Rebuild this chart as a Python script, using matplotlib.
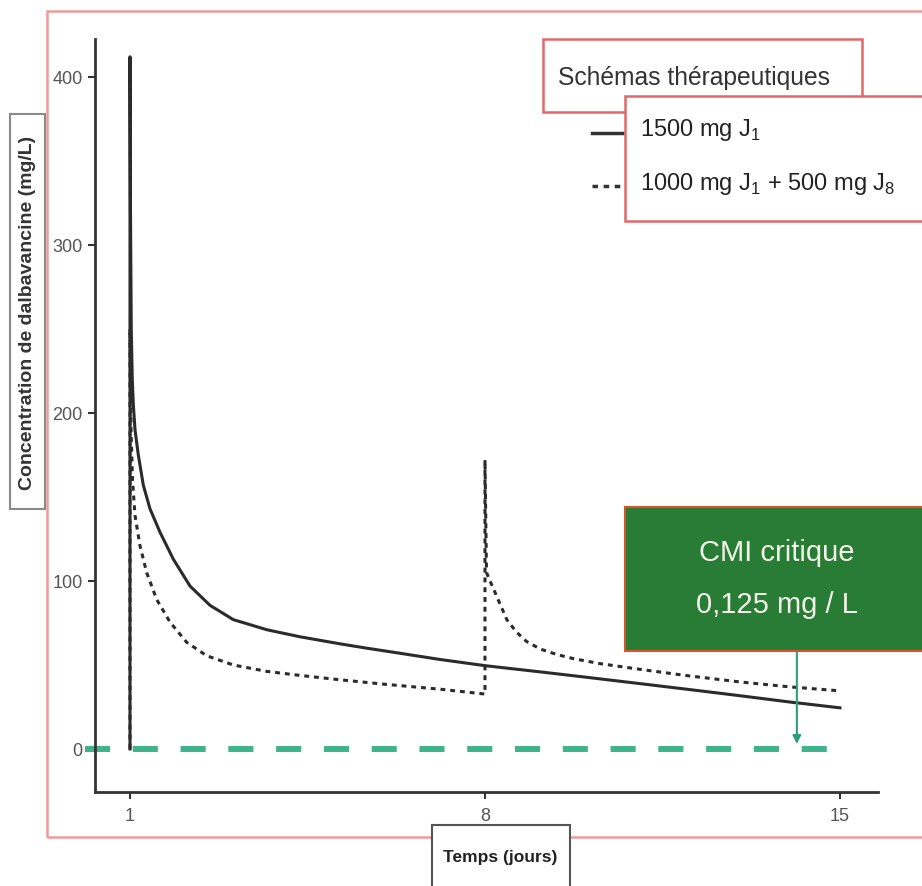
import matplotlib
matplotlib.use("Agg")
import matplotlib.pyplot as plt
from matplotlib.patches import Rectangle
from matplotlib.lines import Line2D

plt.rcParams['font.family'] = ['Liberation Sans', 'DejaVu Sans']

# ---- data ----
t_1500 = [1.0, 1.0, 1.01, 1.025, 1.045, 1.066, 1.099, 1.164, 1.263, 1.394, 1.592, 1.854,
          2.183, 2.578, 3.037, 3.696, 4.35, 5.14, 5.67, 6.32, 7.11, 8.0, 9.09, 10.0,
          11.06, 12.0, 13.03, 14.0, 15.0]
c_1500 = [0, 412, 320, 250, 220, 205, 190, 175, 157, 143, 129, 113,
          97, 85.5, 77, 71, 66.8, 62.6, 60, 57, 53.3, 49.6, 45.9, 42.7,
          38.9, 35.5, 31.7, 28, 24.5]

t_1000_500 = [1.0, 1.0, 1.02, 1.05, 1.099, 1.197, 1.329, 1.526, 1.789, 2.118, 2.513, 3.037,
              3.696, 4.35, 5.14, 6.0, 7.11, 8.0, 8.0, 8.03, 8.1, 8.23, 8.43, 8.62, 8.82,
              9.09, 9.41, 9.74, 10.27, 11.06, 12.0, 13.03, 14.0, 15.0]
c_1000_500 = [0, 250, 190, 160, 139, 121, 105, 89, 75.5, 63.5, 55.5, 50,
              46.2, 43.8, 41.2, 38.6, 35.6, 32.7, 172, 105, 100, 91, 77, 69.6, 64,
              59.5, 56.3, 53.8, 50.8, 47.4, 43.6, 39.9, 37, 34.6]

cmi = 0.125
x_ticks = [1, 8, 15]
y_ticks = [0, 100, 200, 300, 400]
series_labels = ["1500 mg J$_{\\mathregular{1}}$",
                 "1000 mg J$_{\\mathregular{1}}$ + 500 mg J$_{\\mathregular{8}}$"]

W, H = 922, 887
fig = plt.figure(figsize=(W / 100, H / 100), dpi=100)
fig.patch.set_facecolor("white")

def fx(px):
    return px / W

def fy(py):
    return 1 - py / H

ax = fig.add_axes([fx(95), fy(793), fx(878) - fx(95), fy(40) - fy(793)])
ax.set_xlim(0.31, 15.75)
ax.set_ylim(-25.6, 422.6)

ax.plot(t_1500, c_1500, color="#2b2b2b", lw=2.2, solid_joinstyle="round")
ax.plot(t_1000_500, c_1000_500, color="#2b2b2b", lw=2.2, linestyle=(0, (1.6, 1.6)))

# CMI line
ax.plot([0.11, 15.0], [cmi, cmi], color="#3fb38a", lw=4.3,
        linestyle=(0, (4.2, 3.8)), clip_on=False)

# arrow from box to CMI line
ax.annotate("", xy=(14.15, 3), xytext=(14.15, 58.3),
            arrowprops=dict(arrowstyle="-|>", color="#2e9e7a", lw=1.5,
                            mutation_scale=12, shrinkA=0, shrinkB=0))

for s in ["top", "right"]:
    ax.spines[s].set_visible(False)
for s in ["left", "bottom"]:
    ax.spines[s].set_color("#333333")
    ax.spines[s].set_linewidth(2)
ax.set_xticks(x_ticks)
ax.set_yticks(y_ticks)
ax.tick_params(axis="both", length=5, width=1.5, color="#333333",
               labelcolor="#555555", labelsize=13)
ax.tick_params(axis="x", pad=6)
ax.tick_params(axis="y", pad=4)

# red outer frame
fig.add_artist(Rectangle((fx(47), fy(838)), fx(930) - fx(47), fy(12) - fy(838),
                         transform=fig.transFigure, fill=False,
                         edgecolor="#f09a9a", lw=1.8, zorder=0))

# y label box
fig.add_artist(Rectangle((fx(10), fy(510)), fx(45) - fx(10), fy(115) - fy(510),
                         transform=fig.transFigure, facecolor="white",
                         edgecolor="#8a8a8a", lw=1.5, zorder=3))
fig.text(fx(28), fy(313), "Concentration de dalbavancine (mg/L)", rotation=90,
         ha="center", va="center", fontsize=14, fontweight="bold",
         color="#333333", zorder=4)

# x label box
fig.add_artist(Rectangle((fx(432), fy(895)), fx(570) - fx(432), fy(826) - fy(895),
                         transform=fig.transFigure, facecolor="white",
                         edgecolor="#555555", lw=1.5, zorder=3))
fig.text(fx(500), fy(858), "Temps (jours)", ha="center", va="center",
         fontsize=12.5, fontweight="bold", color="#222222", zorder=4)

# legend title box
fig.add_artist(Rectangle((fx(543), fy(113)), fx(862) - fx(543), fy(40) - fy(113),
                         transform=fig.transFigure, facecolor="white",
                         edgecolor="#e06868", lw=1.8, zorder=3))
fig.text(fx(558), fy(78), "Schémas thérapeutiques", ha="left", va="center",
         fontsize=17.7, color="#333333", zorder=4)

# legend entries box
fig.add_artist(Rectangle((fx(625), fy(222)), fx(930) - fx(625), fy(97) - fy(222),
                         transform=fig.transFigure, facecolor="white",
                         edgecolor="#e06868", lw=1.8, zorder=5))
fig.add_artist(Line2D([fx(592), fx(622)], [fy(134), fy(134)], transform=fig.transFigure,
                      color="#333333", lw=2.5, zorder=6))
fig.add_artist(Line2D([fx(592), fx(620)], [fy(187), fy(187)], transform=fig.transFigure,
                      color="#333333", lw=2.5, linestyle=(0, (1.6, 1.6)), zorder=6))
fig.text(fx(640), fy(130), series_labels[0], ha="left", va="center",
         fontsize=17, color="#222222", zorder=7)
fig.text(fx(640), fy(184), series_labels[1], ha="left", va="center",
         fontsize=17, color="#222222", zorder=7)

# CMI box
fig.add_artist(Rectangle((fx(625), fy(652)), fx(930) - fx(625), fy(508) - fy(652),
                         transform=fig.transFigure, facecolor="#287c36",
                         edgecolor="#d8542a", lw=1.5, zorder=5))
fig.text(fx(777), fy(553), "CMI critique", ha="center", va="center",
         fontsize=21, color="#f2f5e8", zorder=6)
fig.text(fx(777), fy(605), "0,125 mg / L", ha="center", va="center",
         fontsize=21, color="#f2f5e8", zorder=6)

fig.savefig("out.png", dpi=100, facecolor="white")
